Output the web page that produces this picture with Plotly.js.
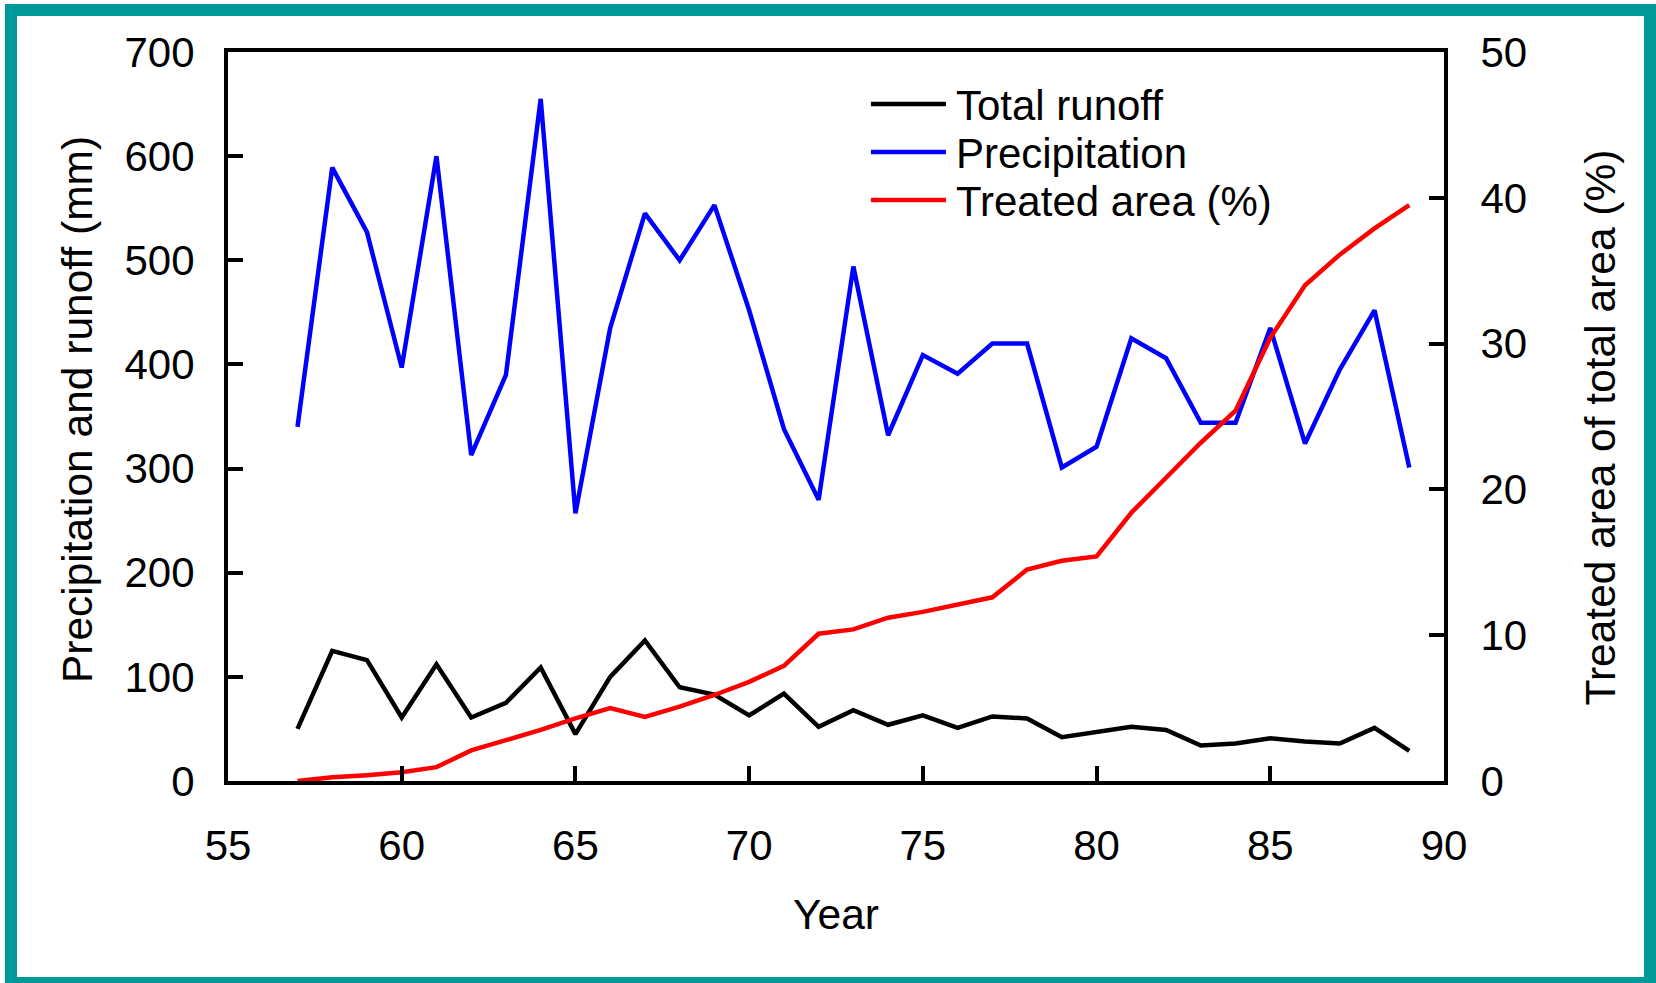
<!DOCTYPE html>
<html>
<head>
<meta charset="utf-8">
<script src="https://cdn.plot.ly/plotly-3.0.1.min.js"></script>
<style>
html,body{margin:0;padding:0;background:#fff;overflow:hidden;}
#chart{width:1656px;height:983px;}
#frame{position:absolute;left:5px;top:4px;width:1651px;height:985px;box-sizing:border-box;border:12px solid #009999;pointer-events:none;}
</style>
</head>
<body>
<div id="chart"></div>
<div id="frame"></div>
<script>
// ---- data ----
const years = [57,58,59,60,61,62,63,64,65,66,67,68,69,70,71,72,73,74,75,76,77,78,79,80,81,82,83,84,85,86,87,88,89];
const totalRunoff = [50,125,116,61,112,61,75,109,45,100,135,90,83,63,84,52,68,54,63,51,62,60,42,47,52,49,34,36,41,38,36,51,29];
const precipitation = [340,589,527,397,600,313,390,655,257,435,545,500,553,452,338,270,494,332,409,391,420,420,301,321,425,406,344,344,435,324,395,452,301];
const treatedArea = [0,0.25,0.4,0.6,0.95,2.1,2.8,3.5,4.3,5.0,4.4,5.1,5.9,6.8,7.9,10.1,10.4,11.2,11.6,12.1,12.6,14.5,15.1,15.4,18.4,20.8,23.2,25.4,30.4,34.0,36.1,37.9,39.5];
const seriesNames = ['Total runoff','Precipitation','Treated area (%)'];
const xTicks = [55,60,65,70,75,80,85,90];
const yTicks = [0,100,200,300,400,500,600,700];
const y2Ticks = [0,10,20,30,40,50];

const FONT = '"Liberation Sans", Arial, Helvetica, sans-serif';
const LW = 4.5;
const TICK_SIZE = 42;
const TITLE_SIZE = 42.5;

const traces = [
  {x: years, y: totalRunoff, name: seriesNames[0], type: 'scatter', mode: 'lines',
   line: {color: '#000000', width: LW}, yaxis: 'y'},
  {x: years, y: precipitation, name: seriesNames[1], type: 'scatter', mode: 'lines',
   line: {color: '#0000FF', width: LW}, yaxis: 'y'},
  {x: years, y: treatedArea, name: seriesNames[2], type: 'scatter', mode: 'lines',
   line: {color: '#FF0000', width: LW}, yaxis: 'y2'}
];

const axisCommon = {
  showline: true, linewidth: 4, linecolor: '#000',
  ticks: 'inside', ticklen: 15, tickwidth: 4, tickcolor: '#000',
  showgrid: false, zeroline: false, automargin: false,
  tickfont: {family: FONT, size: TICK_SIZE, color: '#000'}
};

const layout = {
  width: 1656, height: 983,
  margin: {l: 228, r: 212, t: 52, b: 202, pad: 0},
  paper_bgcolor: '#ffffff', plot_bgcolor: '#ffffff',
  font: {family: FONT, size: TICK_SIZE, color: '#000'},
  showlegend: true,
  legend: {x: 0.5246, y: 0.975, xanchor: 'left', yanchor: 'top',
           bgcolor: 'rgba(0,0,0,0)', borderwidth: 0, itemwidth: 80,
           font: {family: FONT, size: TICK_SIZE, color: '#000'}},
  xaxis: Object.assign({}, axisCommon, {
    range: [55, 90], tickvals: xTicks, mirror: true,
    ticklabelstandoff: 25,
    title: {text: 'Year', standoff: 32, font: {family: FONT, size: TITLE_SIZE, color: '#000'}}
  }),
  yaxis: Object.assign({}, axisCommon, {
    range: [0, 700], tickvals: yTicks,
    ticklabelstandoff: 21,
    title: {text: 'Precipitation and runoff (mm)', standoff: 20, font: {family: FONT, size: TITLE_SIZE, color: '#000'}}
  }),
  yaxis2: Object.assign({}, axisCommon, {
    range: [0, 50], tickvals: y2Ticks, overlaying: 'y', side: 'right', anchor: 'x',
    ticklabelstandoff: 24,
    title: {text: 'Treated area of total area (%)', standoff: 60, font: {family: FONT, size: TITLE_SIZE, color: '#000'}}
  })
};

Plotly.newPlot('chart', traces, layout, {staticPlot: true, displayModeBar: false}).then(function (gd) {
  // lengthen legend line samples and tighten row spacing to match the reference legend
  const items = gd.querySelectorAll('.legend .traces');
  let x0 = 0, y0 = null;
  items.forEach(function (g, i) {
    const t = g.getAttribute('transform') || '';
    const m = t.match(/translate\(([-\d.]+)[ ,]+([-\d.]+)\)/);
    if (m) {
      if (y0 === null) { x0 = parseFloat(m[1]); y0 = parseFloat(m[2]); }
      g.setAttribute('transform', 'translate(' + x0 + ',' + (y0 + i * 48) + ')');
    }
  });
  gd.querySelectorAll('.legend .legendlines path').forEach(function (p) {
    p.setAttribute('d', 'M5,0h75');
  });
  // the reference's side titles are not exactly centred on the plot height
  const yt = gd.querySelector('.g-ytitle');
  if (yt) yt.setAttribute('transform', 'translate(0,-7)');
  const y2t = gd.querySelector('.g-y2title');
  if (y2t) y2t.setAttribute('transform', 'translate(0,11)');
});
</script>
</body>
</html>
